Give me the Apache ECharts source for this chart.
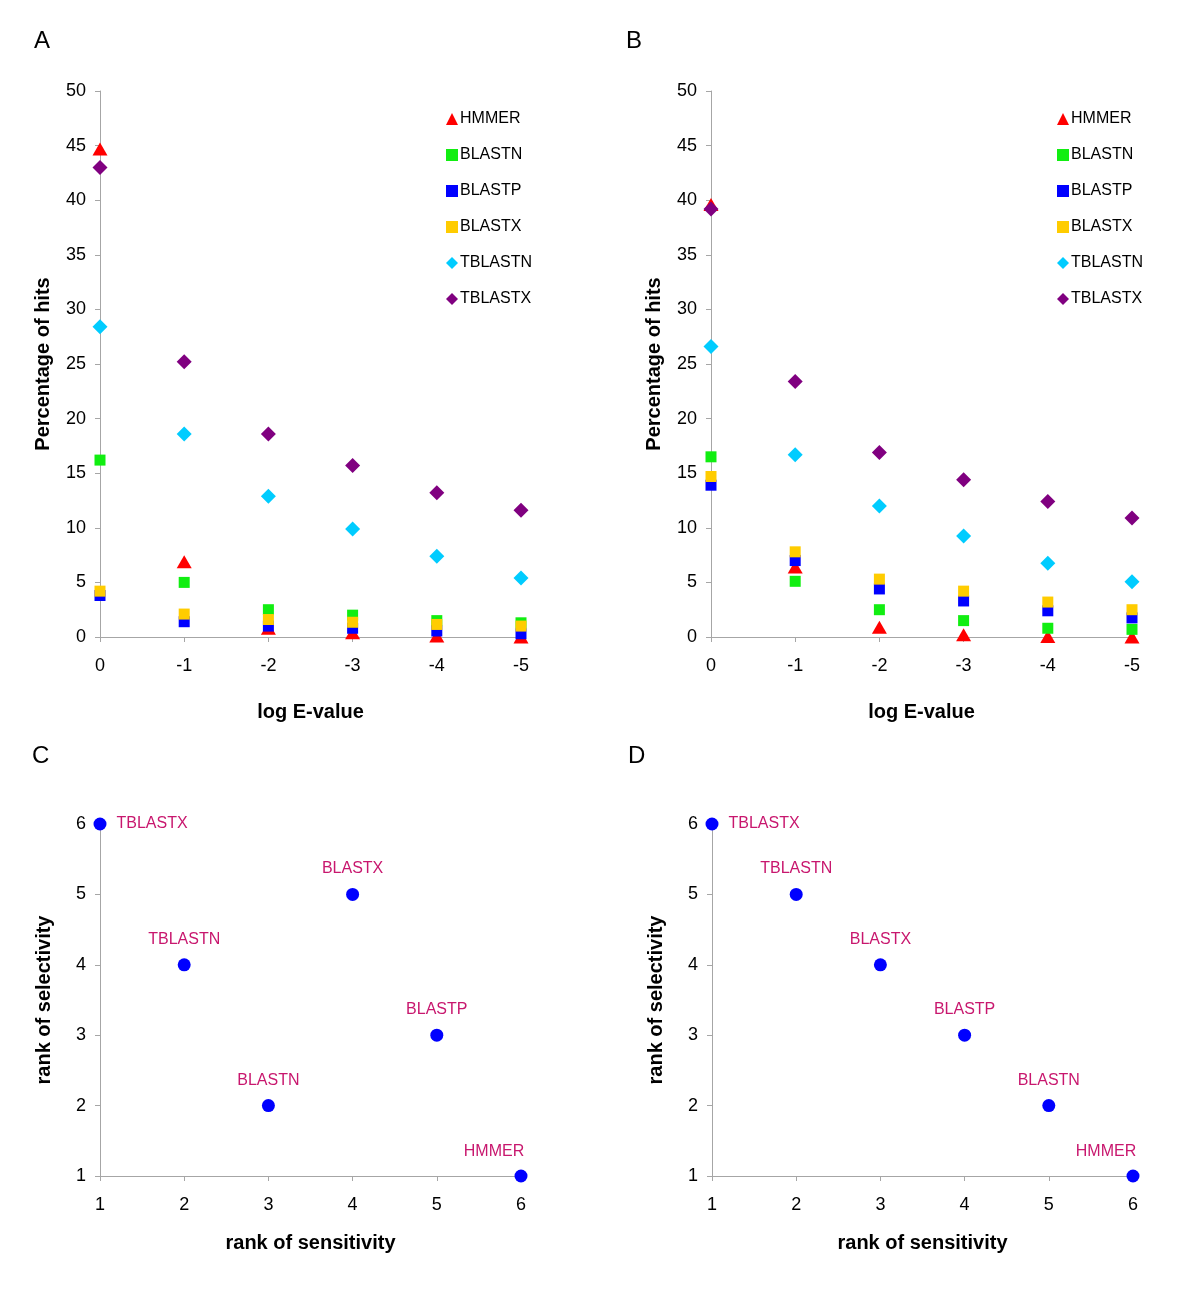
<!DOCTYPE html>
<html>
<head>
<meta charset="utf-8">
<script src="https://cdn.jsdelivr.net/npm/echarts@6/dist/echarts.min.js"></script>
<style>
html,body{margin:0;padding:0;background:#fff;}
#chart{width:1200px;height:1302px;}
</style>
</head>
<body>
<div id="chart"></div>
<script>
// ---------- DATA ----------
const logE = [0, -1, -2, -3, -4, -5];
const programs = ['HMMER', 'BLASTN', 'BLASTP', 'BLASTX', 'TBLASTN', 'TBLASTX'];

// Panel A: percentage of hits
const A_HMMER   = [44.7, 6.9, 0.8, 0.4, 0.1, 0.0];
const A_BLASTN  = [16.2, 5.0, 2.5, 2.0, 1.5, 1.3];
const A_BLASTP  = [3.8, 1.4, 1.0, 0.8, 0.55, 0.3];
const A_BLASTX  = [4.2, 2.1, 1.6, 1.35, 1.15, 1.0];
const A_TBLASTN = [28.4, 18.6, 12.9, 9.9, 7.4, 5.4];
const A_TBLASTX = [43.0, 25.2, 18.6, 15.7, 13.2, 11.6];

// Panel B: percentage of hits
const B_HMMER   = [39.6, 6.4, 0.9, 0.2, 0.05, 0.0];
const B_BLASTN  = [16.5, 5.1, 2.5, 1.5, 0.8, 0.7];
const B_BLASTP  = [13.9, 7.0, 4.4, 3.3, 2.4, 1.75];
const B_BLASTX  = [14.7, 7.8, 5.3, 4.2, 3.2, 2.5];
const B_TBLASTN = [26.6, 16.7, 12.0, 9.25, 6.75, 5.05];
const B_TBLASTX = [39.2, 23.4, 16.9, 14.4, 12.4, 10.9];

// Panel C / D: ranks (order follows `programs`)
const C_sensitivity = [6, 3, 5, 4, 2, 1];
const C_selectivity = [1, 2, 3, 5, 4, 6];
const D_sensitivity = [6, 5, 4, 3, 2, 1];
const D_selectivity = [1, 2, 3, 4, 5, 6];

const yTicksTop = [0, 5, 10, 15, 20, 25, 30, 35, 40, 45, 50];
const rankTicks = [1, 2, 3, 4, 5, 6];

// ---------- STYLE ----------
const FONT = '"Liberation Sans", Arial, sans-serif';
const AXIS_COLOR = '#a6a6a6';
const styleMap = {
  HMMER:   {color: '#ff0000', symbol: 'triangle', size: [15, 13]},
  BLASTN:  {color: '#11ee11', symbol: 'rect', size: 11},
  BLASTP:  {color: '#0000ff', symbol: 'rect', size: 11},
  BLASTX:  {color: '#ffcc00', symbol: 'rect', size: 11},
  TBLASTN: {color: '#00ccff', symbol: 'diamond', size: 15},
  TBLASTX: {color: '#800080', symbol: 'diamond', size: 15}
};

const panelA = [A_HMMER, A_BLASTN, A_BLASTP, A_BLASTX, A_TBLASTN, A_TBLASTX];
const panelB = [B_HMMER, B_BLASTN, B_BLASTP, B_BLASTX, B_TBLASTN, B_TBLASTX];

const grids = [
  {left: 100, top: 91, width: 421, height: 546},
  {left: 711, top: 91, width: 421, height: 546},
  {left: 100, top: 824, width: 421, height: 352},
  {left: 712, top: 824, width: 421, height: 352}
];

function baseAxis(extra) {
  return Object.assign({
    axisLine: {show: true, lineStyle: {color: AXIS_COLOR, width: 1}},
    axisTick: {show: true, length: 5, lineStyle: {color: AXIS_COLOR}},
    splitLine: {show: false},
    axisLabel: {color: '#000', fontFamily: FONT, fontSize: 18},
    nameTextStyle: {color: '#000', fontFamily: FONT, fontSize: 20, fontWeight: 'bold'},
    nameLocation: 'middle'
  }, extra);
}

const xAxes = [], yAxes = [];
[0, 1].forEach(i => {
  xAxes.push(baseAxis({
    gridIndex: i, type: 'value', min: logE[logE.length - 1], max: logE[0], interval: 1,
    inverse: true, name: 'log E-value', nameGap: 65,
    axisLabel: {color: '#000', fontFamily: FONT, fontSize: 18, margin: 20}
  }));
  yAxes.push(baseAxis({
    gridIndex: i, type: 'value', min: yTicksTop[0], max: yTicksTop[yTicksTop.length - 1],
    interval: yTicksTop[1] - yTicksTop[0],
    name: 'Percentage of hits', nameGap: 47, nameRotate: 90,
    axisLabel: {color: '#000', fontFamily: FONT, fontSize: 18, margin: 14}
  }));
});
[2, 3].forEach(i => {
  xAxes.push(baseAxis({
    gridIndex: i, type: 'value', min: rankTicks[0], max: rankTicks[rankTicks.length - 1], interval: 1,
    name: 'rank of sensitivity', nameGap: 57,
    axisLabel: {color: '#000', fontFamily: FONT, fontSize: 18, margin: 20}
  }));
  yAxes.push(baseAxis({
    gridIndex: i, type: 'value', min: rankTicks[0], max: rankTicks[rankTicks.length - 1], interval: 1,
    name: 'rank of selectivity', nameGap: 46, nameRotate: 90,
    axisLabel: {color: '#000', fontFamily: FONT, fontSize: 18, margin: 14}
  }));
});

const series = [];
[panelA, panelB].forEach((panel, gi) => {
  programs.forEach((p, si) => {
    const st = styleMap[p];
    series.push({
      type: 'scatter', name: p, xAxisIndex: gi, yAxisIndex: gi,
      symbol: st.symbol, symbolSize: st.size,
      itemStyle: {color: st.color, opacity: 1},
      data: logE.map((x, k) => [x, panel[si][k]]),
      emphasis: {disabled: true}
    });
  });
});

function rankSeries(gi, sens, sel) {
  const xmin = rankTicks[0], xmax = rankTicks[rankTicks.length - 1];
  return {
    type: 'scatter', name: 'rank' + gi, xAxisIndex: gi, yAxisIndex: gi,
    symbol: 'circle', symbolSize: 13,
    itemStyle: {color: '#0000ff', opacity: 1},
    emphasis: {disabled: true},
    data: programs.map((p, k) => {
      let lab;
      if (sens[k] === xmin) lab = {position: 'right', distance: 10};
      else if (sens[k] === xmax) lab = {position: 'top', distance: 10, offset: [-27, 0]};
      else lab = {position: 'top', distance: 11};
      return {value: [sens[k], sel[k]], name: p, label: lab};
    }),
    label: {show: true, formatter: '{b}', color: '#c8176e', fontFamily: FONT, fontSize: 16}
  };
}
series.push(rankSeries(2, C_sensitivity, C_selectivity));
series.push(rankSeries(3, D_sensitivity, D_selectivity));

function legendAt(left) {
  return {
    orient: 'vertical', left: left, top: 106,
    data: programs, itemWidth: 12, itemHeight: 12, itemGap: 20,
    selectedMode: false,
    textStyle: {fontFamily: FONT, fontSize: 16, color: '#000', lineHeight: 16, padding: [0, 0, 0, -3]}
  };
}

const panelLetters = [['A', 34, 29], ['B', 626, 29], ['C', 32, 744], ['D', 628, 744]];

const option = {
  animation: false,
  backgroundColor: '#fff',
  grid: grids,
  xAxis: xAxes,
  yAxis: yAxes,
  legend: [legendAt(441), legendAt(1052)],
  series: series,
  graphic: panelLetters.map(l => ({
    type: 'text', left: l[1], top: l[2],
    style: {text: l[0], font: '24px ' + FONT, fill: '#000'}
  }))
};

const chart = echarts.init(document.getElementById('chart'), null, {renderer: 'canvas'});
chart.setOption(option);
</script>
</body>
</html>
